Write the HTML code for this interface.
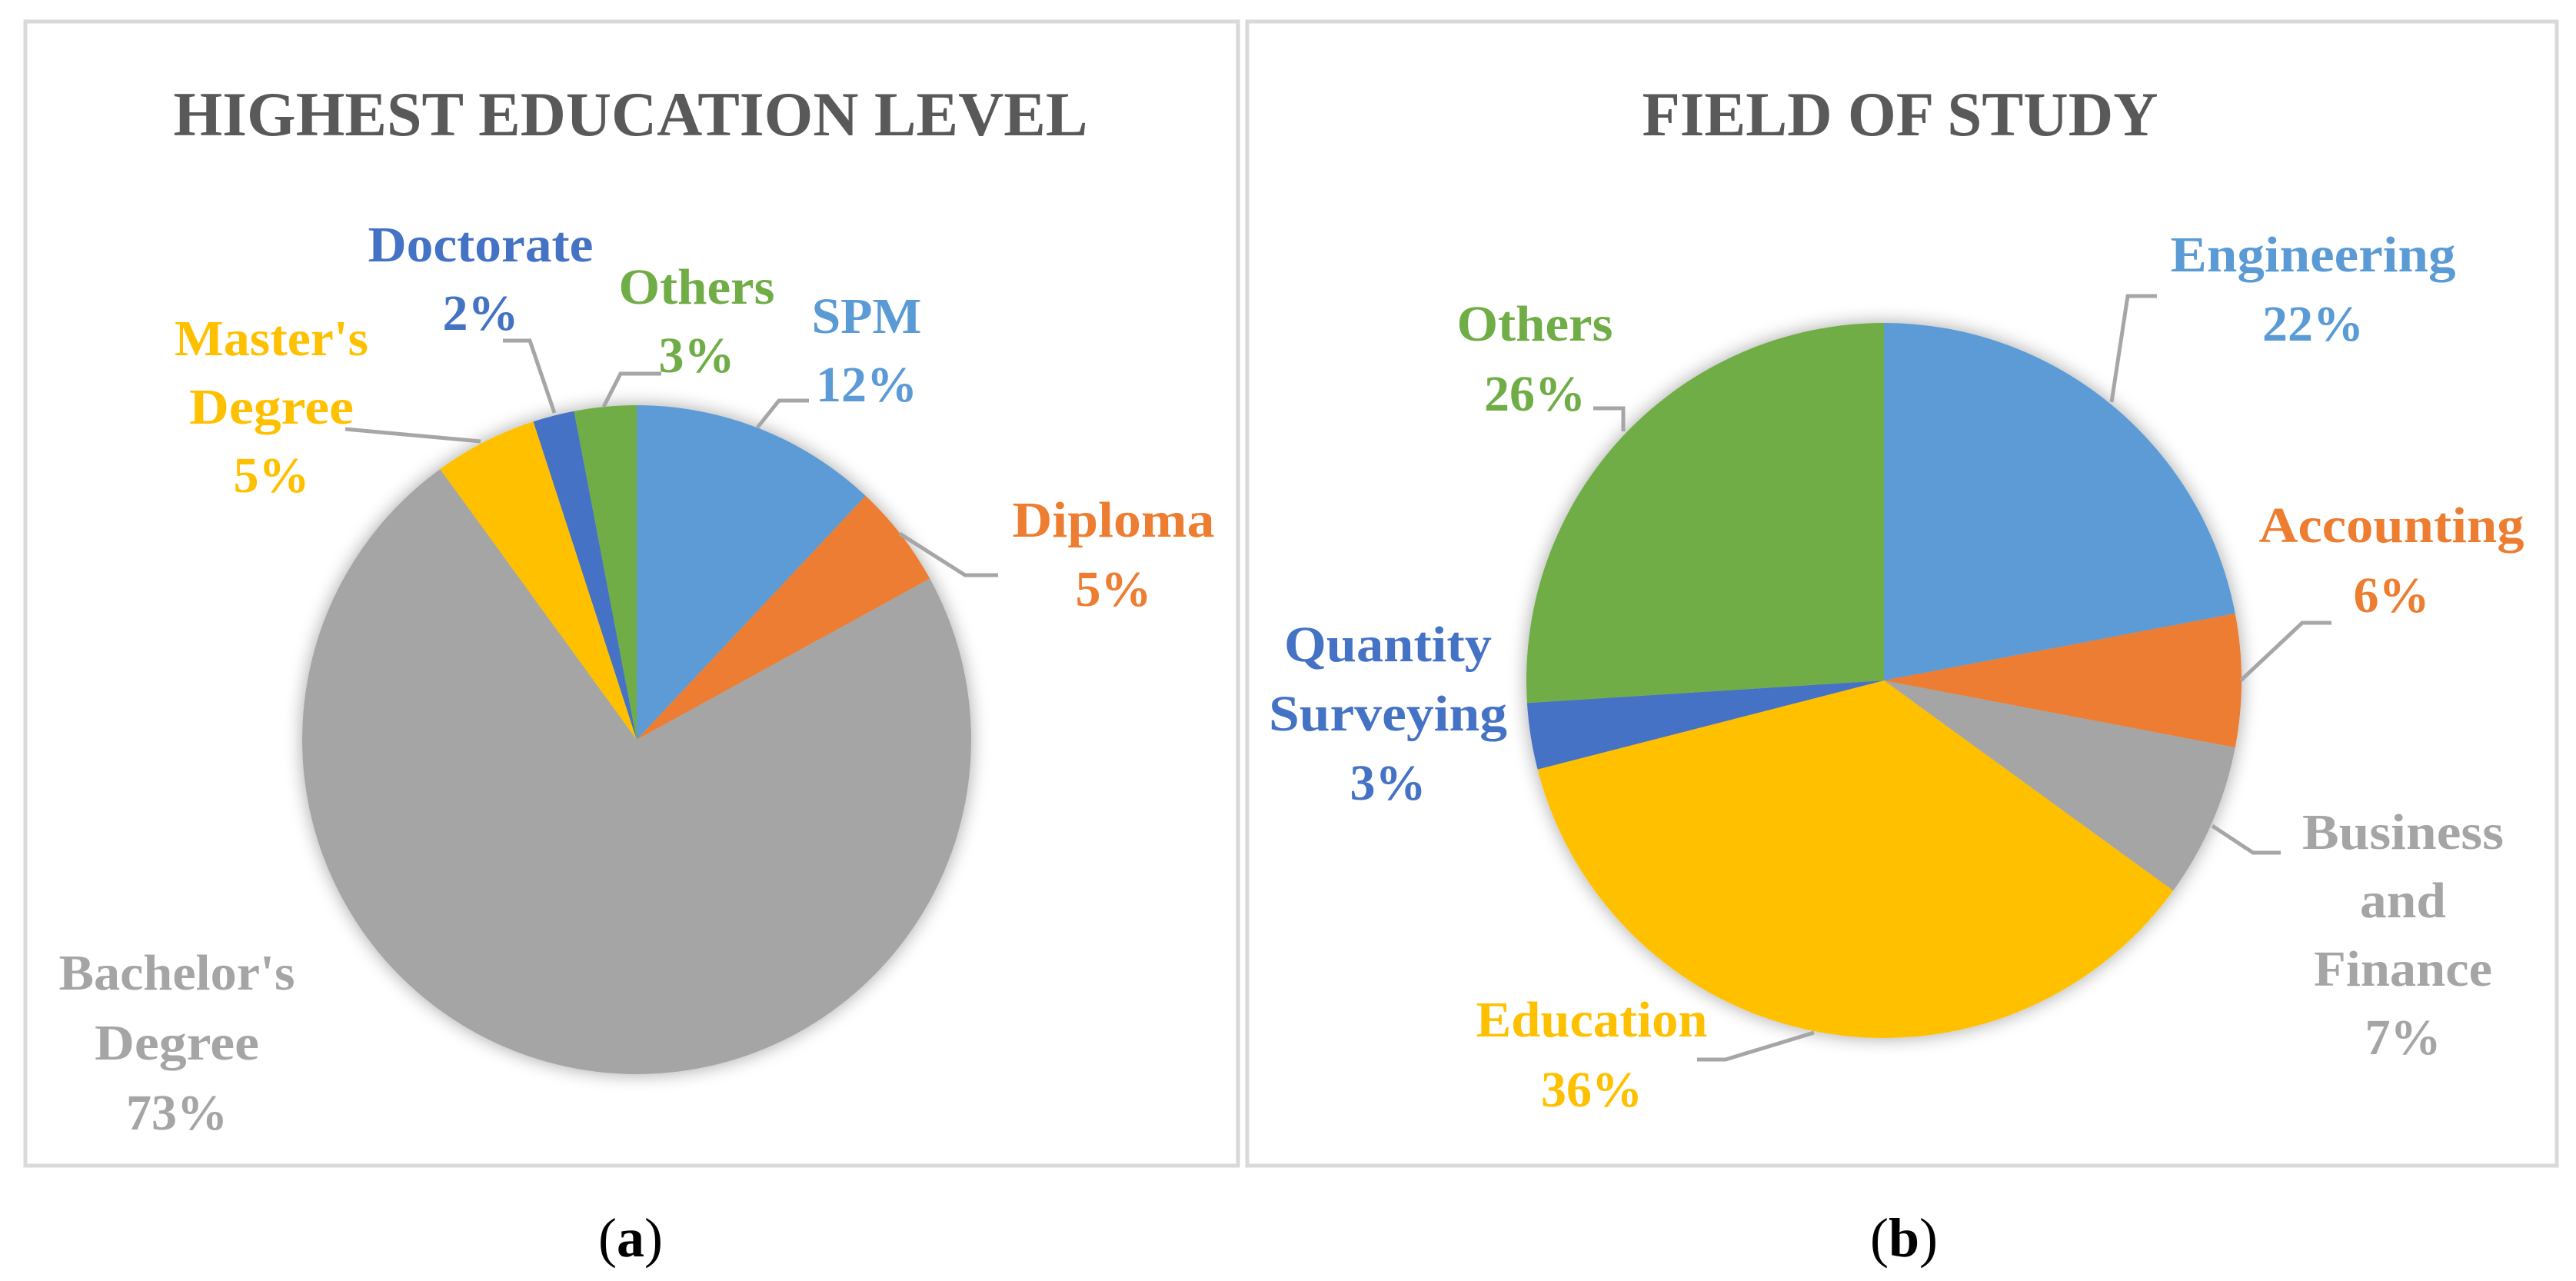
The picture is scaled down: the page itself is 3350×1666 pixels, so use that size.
<!DOCTYPE html>
<html><head><meta charset="utf-8"><style>
html,body{margin:0;padding:0;background:#fff;}
svg{display:block;}
text{font-family:"Liberation Serif",serif;font-weight:bold;}
</style></head><body>
<svg id="fig" width="3350" height="1666" viewBox="0 0 3350 1666" xmlns="http://www.w3.org/2000/svg">
<defs>
<filter id="sh" x="-20%" y="-20%" width="140%" height="140%">
<feGaussianBlur in="SourceAlpha" stdDeviation="12"/>
<feComponentTransfer><feFuncA type="linear" slope="0.35"/></feComponentTransfer>
<feMerge><feMergeNode/><feMergeNode in="SourceGraphic"/></feMerge>
</filter>
</defs>
<rect x="33" y="28" width="1577" height="1488" fill="none" stroke="#d9d9d9" stroke-width="5"/>
<rect x="1622" y="28" width="1703" height="1488" fill="none" stroke="#d9d9d9" stroke-width="5"/>
<text x="820" y="176" text-anchor="middle" font-size="82" fill="#595959" textLength="1189" lengthAdjust="spacingAndGlyphs">HIGHEST EDUCATION LEVEL</text>
<text x="2471" y="176" text-anchor="middle" font-size="82" fill="#595959" textLength="671" lengthAdjust="spacingAndGlyphs">FIELD OF STUDY</text>
<text x="820" y="1634" text-anchor="middle" font-size="72" fill="#000" style="font-weight:normal">(<tspan font-weight="bold">a</tspan>)</text>
<text x="2476" y="1634" text-anchor="middle" font-size="72" fill="#000" style="font-weight:normal">(<tspan font-weight="bold">b</tspan>)</text>
<g id="pieA"></g>
<g id="pieB"></g>
</svg>
<script>
const catsA = [["SPM"], ["Diploma"], ["Bachelor's", "Degree"], ["Master's", "Degree"], ["Doctorate"], ["Others"]];
const valsA = [12, 5, 73, 5, 2, 3];
const catsB = [["Engineering"], ["Accounting"], ["Business", "and", "Finance"], ["Education"], ["Quantity", "Surveying"], ["Others"]];
const valsB = [22, 6, 7, 36, 3, 26];
const colorsA = ["#5B9BD5", "#ED7D31", "#A5A5A5", "#FFC000", "#4472C4", "#70AD47"];
const colorsB = ["#5B9BD5", "#ED7D31", "#A5A5A5", "#FFC000", "#4472C4", "#70AD47"];

const NS = "http://www.w3.org/2000/svg";
function mk(tag, attrs, parent){const e=document.createElementNS(NS,tag);for(const k in attrs)e.setAttribute(k,attrs[k]);parent.appendChild(e);return e;}

function drawPie(g, cx, cy, r, vals, colors, cats, layout, prefix){
  const total = vals.reduce((a,b)=>a+b,0);
  const sg = mk("g",{filter:"url(#sh)"},g);
  let a0 = 0;
  vals.forEach((v,i)=>{
    const a1 = a0 + v/total*2*Math.PI;
    const x0=cx+r*Math.sin(a0), y0=cy-r*Math.cos(a0);
    const x1=cx+r*Math.sin(a1), y1=cy-r*Math.cos(a1);
    const large = (a1-a0)>Math.PI?1:0;
    const p = mk("path",{d:`M${cx},${cy} L${x0},${y0} A${r},${r} 0 ${large} 1 ${x1},${y1} Z`,fill:colors[i]},sg);
    
    
    a0 = a1;
  });
  vals.forEach((v,i)=>{
    const L = layout[i];
    if(L.line){
      const pl = mk("polyline",{points:L.line.map(p=>p.join(",")).join(" "),fill:"none",stroke:"#A6A6A6","stroke-width":5},g);
      
      
    }
    const t = mk("text",{x:L.x,"text-anchor":"middle","font-size":L.fs||66,fill:colors[i]},g);
    
    
    const lines = cats[i].concat([v+"%"]);
    lines.forEach((s,j)=>{
      const ts = mk("tspan",{x:L.x,y:L.y+j*L.lh},t);
      if(L.w && L.w[j]){ts.setAttribute("textLength",L.w[j]);ts.setAttribute("lengthAdjust","spacingAndGlyphs");}
      ts.textContent = s;
    });
  });
}

drawPie(document.getElementById("pieA"), 828, 962, 435, valsA, colorsA, catsA, [
  {x:1127,y:433,lh:89,w:[143],line:[[1052,521],[1013,521],[985,556]]},
  {x:1448,y:698,lh:90,w:[263],line:[[1298,748],[1255,748],[1170,694]]},
  {x:230,y:1287,lh:91,w:[307,214]},
  {x:353,y:462,lh:89,w:[252,214],line:[[449,558],[625,574]]},
  {x:625,y:340,lh:89,w:[293],line:[[654,443],[689,443],[721,537]]},
  {x:906,y:395,lh:89,w:[203],line:[[860,486],[807,486],[785,529]]}
], "a");

drawPie(document.getElementById("pieB"), 2450, 885, 465, valsB, colorsB, catsB, [
  {x:3008,y:353,lh:90,w:[371],line:[[2805,385],[2767,385],[2746,523]]},
  {x:3110,y:705,lh:91,w:[345],line:[[3032,810],[2994,810],[2914,885]]},
  {x:3125,y:1104,lh:89,w:[262,112,232],line:[[2966,1109],[2930,1109],[2877,1074]]},
  {x:2070,y:1348,lh:91,w:[301],line:[[2207,1378],[2244,1378],[2359,1343]]},
  {x:1805,y:860,lh:90,w:[270,310]},
  {x:1996,y:443,lh:91,w:[203],line:[[2072,531],[2111,531],[2111,561]]}
], "b");
</script>
</body></html>
